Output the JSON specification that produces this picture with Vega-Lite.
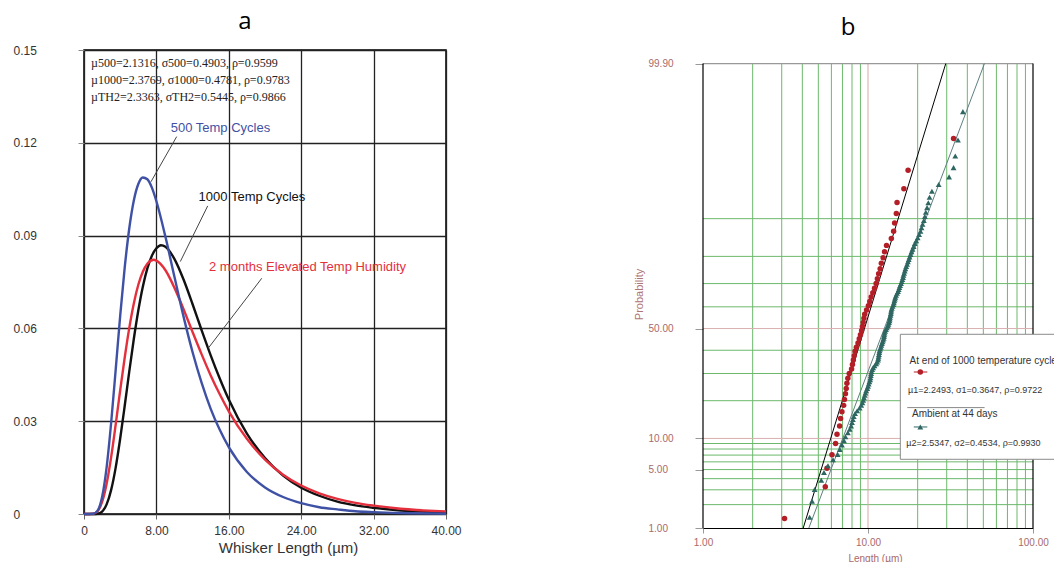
{
  "$schema": "https://vega.github.io/schema/vega-lite/v6.json",
  "background": "white",
  "padding": {"left": 12, "top": 9, "right": 0, "bottom": 0},
  "autosize": {"type": "pad"},
  "bounds": "flush",
  "spacing": 257,
  "config": {
    "font": "Liberation Sans",
    "view": {"stroke": null},
    "axis": {"labelFont": "Liberation Sans", "titleFont": "Liberation Sans"},
    "title": {"font": "Open Sans", "fontSize": 24, "fontWeight": "normal", "color": "#000", "anchor": "middle", "baseline": "alphabetic", "offset": 10, "dx": -20}
  },
  "datasets": {
    "pdf": [
      {"series": "1000 Temp Cycles", "len": 0, "dens": 0}, {"series": "1000 Temp Cycles", "len": 1, "dens": 0}, {"series": "1000 Temp Cycles", "len": 1.5, "dens": 0.0001}, {"series": "1000 Temp Cycles", "len": 2, "dens": 0.0008}, {"series": "1000 Temp Cycles", "len": 2.5, "dens": 0.0031}, {"series": "1000 Temp Cycles", "len": 3, "dens": 0.0078}, {"series": "1000 Temp Cycles", "len": 3.5, "dens": 0.015}, {"series": "1000 Temp Cycles", "len": 4, "dens": 0.0244}, {"series": "1000 Temp Cycles", "len": 4.5, "dens": 0.035}, {"series": "1000 Temp Cycles", "len": 5, "dens": 0.046}, {"series": "1000 Temp Cycles", "len": 5.5, "dens": 0.0565}, {"series": "1000 Temp Cycles", "len": 6, "dens": 0.0658}, {"series": "1000 Temp Cycles", "len": 6.5, "dens": 0.0735}, {"series": "1000 Temp Cycles", "len": 7, "dens": 0.0794}, {"series": "1000 Temp Cycles", "len": 7.5, "dens": 0.0835}, {"series": "1000 Temp Cycles", "len": 8, "dens": 0.0859}, {"series": "1000 Temp Cycles", "len": 8.5, "dens": 0.0869}, {"series": "1000 Temp Cycles", "len": 9, "dens": 0.0864}, {"series": "1000 Temp Cycles", "len": 10, "dens": 0.0824}, {"series": "1000 Temp Cycles", "len": 11, "dens": 0.0758}, {"series": "1000 Temp Cycles", "len": 12, "dens": 0.0678}, {"series": "1000 Temp Cycles", "len": 13, "dens": 0.0594}, {"series": "1000 Temp Cycles", "len": 14, "dens": 0.0513}, {"series": "1000 Temp Cycles", "len": 15, "dens": 0.0438}, {"series": "1000 Temp Cycles", "len": 16, "dens": 0.037}, {"series": "1000 Temp Cycles", "len": 18, "dens": 0.026}, {"series": "1000 Temp Cycles", "len": 20, "dens": 0.0181}, {"series": "1000 Temp Cycles", "len": 22, "dens": 0.0124}, {"series": "1000 Temp Cycles", "len": 24, "dens": 0.0085}, {"series": "1000 Temp Cycles", "len": 26, "dens": 0.0059}, {"series": "1000 Temp Cycles", "len": 28, "dens": 0.004}, {"series": "1000 Temp Cycles", "len": 30, "dens": 0.0028}, {"series": "1000 Temp Cycles", "len": 32, "dens": 0.002}, {"series": "1000 Temp Cycles", "len": 35, "dens": 0.0011}, {"series": "1000 Temp Cycles", "len": 40, "dens": 0.0005},
      {"series": "2 months Elevated Temp Humidity", "len": 0, "dens": 0}, {"series": "2 months Elevated Temp Humidity", "len": 1, "dens": 0.0001}, {"series": "2 months Elevated Temp Humidity", "len": 1.5, "dens": 0.0009}, {"series": "2 months Elevated Temp Humidity", "len": 2, "dens": 0.0039}, {"series": "2 months Elevated Temp Humidity", "len": 2.5, "dens": 0.0098}, {"series": "2 months Elevated Temp Humidity", "len": 3, "dens": 0.0184}, {"series": "2 months Elevated Temp Humidity", "len": 3.5, "dens": 0.0289}, {"series": "2 months Elevated Temp Humidity", "len": 4, "dens": 0.04}, {"series": "2 months Elevated Temp Humidity", "len": 4.5, "dens": 0.0506}, {"series": "2 months Elevated Temp Humidity", "len": 5, "dens": 0.0601}, {"series": "2 months Elevated Temp Humidity", "len": 5.5, "dens": 0.068}, {"series": "2 months Elevated Temp Humidity", "len": 6, "dens": 0.0741}, {"series": "2 months Elevated Temp Humidity", "len": 6.5, "dens": 0.0783}, {"series": "2 months Elevated Temp Humidity", "len": 7, "dens": 0.0809}, {"series": "2 months Elevated Temp Humidity", "len": 7.7, "dens": 0.0822}, {"series": "2 months Elevated Temp Humidity", "len": 8, "dens": 0.0819}, {"series": "2 months Elevated Temp Humidity", "len": 9, "dens": 0.0788}, {"series": "2 months Elevated Temp Humidity", "len": 10, "dens": 0.0731}, {"series": "2 months Elevated Temp Humidity", "len": 11, "dens": 0.0662}, {"series": "2 months Elevated Temp Humidity", "len": 12, "dens": 0.0588}, {"series": "2 months Elevated Temp Humidity", "len": 13, "dens": 0.0516}, {"series": "2 months Elevated Temp Humidity", "len": 14, "dens": 0.0448}, {"series": "2 months Elevated Temp Humidity", "len": 15, "dens": 0.0387}, {"series": "2 months Elevated Temp Humidity", "len": 16, "dens": 0.0332}, {"series": "2 months Elevated Temp Humidity", "len": 18, "dens": 0.0243}, {"series": "2 months Elevated Temp Humidity", "len": 20, "dens": 0.0176}, {"series": "2 months Elevated Temp Humidity", "len": 22, "dens": 0.0127}, {"series": "2 months Elevated Temp Humidity", "len": 24, "dens": 0.0092}, {"series": "2 months Elevated Temp Humidity", "len": 26, "dens": 0.0067}, {"series": "2 months Elevated Temp Humidity", "len": 28, "dens": 0.0049}, {"series": "2 months Elevated Temp Humidity", "len": 30, "dens": 0.0036}, {"series": "2 months Elevated Temp Humidity", "len": 32, "dens": 0.0027}, {"series": "2 months Elevated Temp Humidity", "len": 35, "dens": 0.0017}, {"series": "2 months Elevated Temp Humidity", "len": 40, "dens": 0.0008},
      {"series": "500 Temp Cycles", "len": 0, "dens": 0}, {"series": "500 Temp Cycles", "len": 1, "dens": 0.0001}, {"series": "500 Temp Cycles", "len": 1.5, "dens": 0.0011}, {"series": "500 Temp Cycles", "len": 2, "dens": 0.0055}, {"series": "500 Temp Cycles", "len": 2.5, "dens": 0.0151}, {"series": "500 Temp Cycles", "len": 3, "dens": 0.0295}, {"series": "500 Temp Cycles", "len": 3.5, "dens": 0.0466}, {"series": "500 Temp Cycles", "len": 4, "dens": 0.0641}, {"series": "500 Temp Cycles", "len": 4.5, "dens": 0.0797}, {"series": "500 Temp Cycles", "len": 5, "dens": 0.0923}, {"series": "500 Temp Cycles", "len": 5.5, "dens": 0.1013}, {"series": "500 Temp Cycles", "len": 6, "dens": 0.1067}, {"series": "500 Temp Cycles", "len": 6.5, "dens": 0.1088}, {"series": "500 Temp Cycles", "len": 7, "dens": 0.1082}, {"series": "500 Temp Cycles", "len": 7.5, "dens": 0.1055}, {"series": "500 Temp Cycles", "len": 8, "dens": 0.1011}, {"series": "500 Temp Cycles", "len": 9, "dens": 0.0896}, {"series": "500 Temp Cycles", "len": 10, "dens": 0.0766}, {"series": "500 Temp Cycles", "len": 11, "dens": 0.0638}, {"series": "500 Temp Cycles", "len": 12, "dens": 0.0523}, {"series": "500 Temp Cycles", "len": 13, "dens": 0.0424}, {"series": "500 Temp Cycles", "len": 14, "dens": 0.034}, {"series": "500 Temp Cycles", "len": 15, "dens": 0.0272}, {"series": "500 Temp Cycles", "len": 16, "dens": 0.0216}, {"series": "500 Temp Cycles", "len": 18, "dens": 0.0136}, {"series": "500 Temp Cycles", "len": 20, "dens": 0.0086}, {"series": "500 Temp Cycles", "len": 22, "dens": 0.0055}, {"series": "500 Temp Cycles", "len": 24, "dens": 0.0035}, {"series": "500 Temp Cycles", "len": 26, "dens": 0.0022}, {"series": "500 Temp Cycles", "len": 28, "dens": 0.0015}, {"series": "500 Temp Cycles", "len": 30, "dens": 0.0009}, {"series": "500 Temp Cycles", "len": 32, "dens": 0.0006}, {"series": "500 Temp Cycles", "len": 35, "dens": 0.0003}, {"series": "500 Temp Cycles", "len": 40, "dens": 0.0001}
    ],
    "statsA": [
      {"label": "µ500=2.1316, σ500=0.4903, ρ=0.9599", "len": 0.77, "dens": 0.1458},
      {"label": "µ1000=2.3769, σ1000=0.4781, ρ=0.9783", "len": 0.77, "dens": 0.1403},
      {"label": "µTH2=2.3363, σTH2=0.5445, ρ=0.9866", "len": 0.77, "dens": 0.1348}
    ],
    "annA": [
      {"label": "500 Temp Cycles", "series": "500 Temp Cycles", "len": 15.08, "dens": 0.1248},
      {"label": "1000 Temp Cycles", "series": "1000 Temp Cycles", "len": 18.56, "dens": 0.1025},
      {"label": "2 months Elevated Temp Humidity", "series": "2 months Elevated Temp Humidity", "len": 24.7, "dens": 0.0798}
    ],
    "leadA": [
      {"len": 10.24, "dens": 0.122, "len2": 7.4, "dens2": 0.1074},
      {"len": 13.67, "dens": 0.0996, "len2": 10.64, "dens2": 0.0816},
      {"len": 19.64, "dens": 0.0762, "len2": 13.73, "dens2": 0.0536}
    ],
    "vgrid": [{"len": 2}, {"len": 3}, {"len": 4}, {"len": 5}, {"len": 6}, {"len": 7}, {"len": 8}, {"len": 9}, {"len": 20}, {"len": 30}, {"len": 40}, {"len": 50}, {"len": 60}, {"len": 70}, {"len": 80}, {"len": 90}],
    "hgrid": [{"prob": 2, "z": -2.0537}, {"prob": 3, "z": -1.8808}, {"prob": 4, "z": -1.7507}, {"prob": 5, "z": -1.6449}, {"prob": 6, "z": -1.5548}, {"prob": 7, "z": -1.4758}, {"prob": 8, "z": -1.4051}, {"prob": 9, "z": -1.3408}, {"prob": 20, "z": -0.8416}, {"prob": 30, "z": -0.5244}, {"prob": 40, "z": -0.2533}, {"prob": 60, "z": 0.2533}, {"prob": 70, "z": 0.5244}, {"prob": 80, "z": 0.8416}, {"prob": 90, "z": 1.2816}],
    "red": [
      {"len": 3.12, "z": -2.216}, {"len": 5.51, "z": -1.846}, {"len": 5.64, "z": -1.63}, {"len": 6.05, "z": -1.471}, {"len": 6.36, "z": -1.342}, {"len": 6.49, "z": -1.232}, {"len": 6.73, "z": -1.136}, {"len": 6.82, "z": -1.05}, {"len": 6.95, "z": -0.97}, {"len": 7.12, "z": -0.896},
      {"len": 7.2, "z": -0.827}, {"len": 7.3, "z": -0.761}, {"len": 7.38, "z": -0.698}, {"len": 7.45, "z": -0.639}, {"len": 7.55, "z": -0.581}, {"len": 7.7, "z": -0.525}, {"len": 7.95, "z": -0.471}, {"len": 8.05, "z": -0.418}, {"len": 8.15, "z": -0.367}, {"len": 8.25, "z": -0.316},
      {"len": 8.35, "z": -0.266}, {"len": 8.5, "z": -0.217}, {"len": 8.7, "z": -0.168}, {"len": 8.85, "z": -0.12}, {"len": 9.0, "z": -0.072}, {"len": 9.15, "z": -0.024}, {"len": 9.25, "z": 0.024}, {"len": 9.35, "z": 0.072}, {"len": 9.45, "z": 0.12}, {"len": 9.55, "z": 0.168},
      {"len": 9.8, "z": 0.217}, {"len": 10.05, "z": 0.266}, {"len": 10.25, "z": 0.316}, {"len": 10.45, "z": 0.367}, {"len": 10.7, "z": 0.418}, {"len": 10.95, "z": 0.471}, {"len": 11.2, "z": 0.525}, {"len": 11.4, "z": 0.581}, {"len": 11.6, "z": 0.639}, {"len": 11.85, "z": 0.698},
      {"len": 12.05, "z": 0.761}, {"len": 12.35, "z": 0.827}, {"len": 12.6, "z": 0.896}, {"len": 12.95, "z": 0.97}, {"len": 13.85, "z": 1.05}, {"len": 14.3, "z": 1.136}, {"len": 14.5, "z": 1.232}, {"len": 14.85, "z": 1.342}, {"len": 15.0, "z": 1.471}, {"len": 16.5, "z": 1.63},
      {"len": 17.5, "z": 1.846}, {"len": 33.0, "z": 2.216}
    ],
    "teal": [
      {"len": 4.43, "z": -2.2}, {"len": 4.58, "z": -2.013}, {"len": 4.75, "z": -1.877}, {"len": 5.21, "z": -1.769}, {"len": 5.41, "z": -1.679}, {"len": 5.72, "z": -1.601}, {"len": 6.14, "z": -1.531}, {"len": 6.55, "z": -1.468}, {"len": 6.75, "z": -1.41}, {"len": 6.95, "z": -1.357},
      {"len": 7.15, "z": -1.307}, {"len": 7.3, "z": -1.261}, {"len": 7.55, "z": -1.216}, {"len": 7.75, "z": -1.175}, {"len": 7.9, "z": -1.135}, {"len": 8.0, "z": -1.097}, {"len": 8.1, "z": -1.06}, {"len": 8.2, "z": -1.025}, {"len": 8.35, "z": -0.991}, {"len": 8.6, "z": -0.958},
      {"len": 8.9, "z": -0.926}, {"len": 9.1, "z": -0.895}, {"len": 9.25, "z": -0.865}, {"len": 9.35, "z": -0.835}, {"len": 9.45, "z": -0.806}, {"len": 9.55, "z": -0.778}, {"len": 9.65, "z": -0.751}, {"len": 9.75, "z": -0.724}, {"len": 9.9, "z": -0.698}, {"len": 10.0, "z": -0.672},
      {"len": 10.1, "z": -0.646}, {"len": 10.2, "z": -0.621}, {"len": 10.3, "z": -0.597}, {"len": 10.35, "z": -0.573}, {"len": 10.4, "z": -0.548}, {"len": 10.45, "z": -0.525}, {"len": 10.5, "z": -0.501}, {"len": 10.6, "z": -0.478}, {"len": 10.75, "z": -0.456}, {"len": 10.95, "z": -0.433},
      {"len": 11.2, "z": -0.411}, {"len": 11.35, "z": -0.389}, {"len": 11.5, "z": -0.366}, {"len": 11.55, "z": -0.345}, {"len": 11.6, "z": -0.323}, {"len": 11.65, "z": -0.301}, {"len": 11.7, "z": -0.28}, {"len": 11.75, "z": -0.259}, {"len": 11.85, "z": -0.238}, {"len": 11.95, "z": -0.217},
      {"len": 12.05, "z": -0.196}, {"len": 12.15, "z": -0.175}, {"len": 12.25, "z": -0.154}, {"len": 12.35, "z": -0.133}, {"len": 12.45, "z": -0.113}, {"len": 12.5, "z": -0.092}, {"len": 12.55, "z": -0.072}, {"len": 12.6, "z": -0.051}, {"len": 12.7, "z": -0.031}, {"len": 12.85, "z": -0.01},
      {"len": 13.0, "z": 0.01}, {"len": 13.2, "z": 0.031}, {"len": 13.3, "z": 0.051}, {"len": 13.4, "z": 0.072}, {"len": 13.5, "z": 0.092}, {"len": 13.55, "z": 0.113}, {"len": 13.6, "z": 0.133}, {"len": 13.7, "z": 0.154}, {"len": 13.75, "z": 0.175}, {"len": 13.8, "z": 0.196},
      {"len": 13.85, "z": 0.217}, {"len": 13.95, "z": 0.238}, {"len": 14.1, "z": 0.259}, {"len": 14.25, "z": 0.28}, {"len": 14.35, "z": 0.301}, {"len": 14.45, "z": 0.323}, {"len": 14.55, "z": 0.345}, {"len": 14.65, "z": 0.366}, {"len": 14.8, "z": 0.389}, {"len": 15.0, "z": 0.411},
      {"len": 15.2, "z": 0.433}, {"len": 15.35, "z": 0.456}, {"len": 15.5, "z": 0.478}, {"len": 15.65, "z": 0.501}, {"len": 15.85, "z": 0.525}, {"len": 16.0, "z": 0.548}, {"len": 16.15, "z": 0.573}, {"len": 16.3, "z": 0.597}, {"len": 16.4, "z": 0.621}, {"len": 16.55, "z": 0.646},
      {"len": 16.7, "z": 0.672}, {"len": 16.85, "z": 0.698}, {"len": 17.05, "z": 0.724}, {"len": 17.25, "z": 0.751}, {"len": 17.45, "z": 0.778}, {"len": 17.65, "z": 0.806}, {"len": 17.85, "z": 0.835}, {"len": 18.1, "z": 0.865}, {"len": 18.35, "z": 0.895}, {"len": 18.6, "z": 0.926},
      {"len": 18.9, "z": 0.958}, {"len": 19.2, "z": 0.991}, {"len": 19.6, "z": 1.025}, {"len": 20.0, "z": 1.06}, {"len": 20.4, "z": 1.097}, {"len": 20.8, "z": 1.135}, {"len": 21.1, "z": 1.175}, {"len": 21.4, "z": 1.216}, {"len": 21.8, "z": 1.261}, {"len": 22.1, "z": 1.307},
      {"len": 22.4, "z": 1.357}, {"len": 22.8, "z": 1.41}, {"len": 23.2, "z": 1.468}, {"len": 23.6, "z": 1.531}, {"len": 24.4, "z": 1.601}, {"len": 26.8, "z": 1.679}, {"len": 31.0, "z": 1.769}, {"len": 33.0, "z": 1.877}, {"len": 33.8, "z": 2.013}, {"len": 35.1, "z": 2.2},
      {"len": 37.6, "z": 2.53}
    ],
    "fitRed": [{"len": 4.05, "z": -2.3263}, {"len": 29.6, "z": 3.0902}],
    "fitTeal": [{"len": 4.38, "z": -2.3263}, {"len": 50.8, "z": 3.0902}],
    "legHead": [
      {"label": "At end of 1000 temperature cycles", "len": 17.87, "z": -0.382},
      {"label": "Ambient at 44 days", "len": 18.48, "z": -0.992}
    ],
    "legStats": [
      {"label": "µ1=2.2493, σ1=0.3647, ρ=0.9722", "len": 17.48, "z": -0.72},
      {"label": "µ2=2.5347, σ2=0.4534, ρ=0.9930", "len": 17.07, "z": -1.335}
    ]
  },
  "hconcat": [
    {
      "width": 362,
      "height": 464,
      "view": {"stroke": "#000", "strokeWidth": 1.5, "fill": "white"},
      "title": {"text": "a"},
      "layer": [
        {
          "data": {"name": "pdf"},
          "mark": {"type": "line", "strokeWidth": 2.4, "interpolate": "monotone"},
          "encoding": {
            "x": {"field": "len", "type": "quantitative", "scale": {"domain": [0, 40], "nice": false, "zero": false},
              "axis": {"values": [0, 8, 16, 24, 32, 40], "labelExpr": "datum.value == 0 ? '0' : format(datum.value, '.2f')", "title": "Whisker Length (µm)", "titleFontSize": 15, "titleFontWeight": "normal", "titleColor": "#333", "titleX": 204, "titleY": 38, "titleBaseline": "alphabetic", "grid": true, "gridColor": "#222", "gridWidth": 1.3, "domain": false, "tickColor": "#666", "tickSize": 5, "labelPadding": 6, "labelFontSize": 12, "labelColor": "#333", "labelDx": 3, "labelFlush": false, "labelOverlap": false}},
            "y": {"field": "dens", "type": "quantitative", "scale": {"domain": [0, 0.15], "nice": false},
              "axis": {"values": [0, 0.03, 0.06, 0.09, 0.12, 0.15], "labelExpr": "datum.value == 0 ? '0' : format(datum.value, '.2f')", "title": null, "grid": true, "gridColor": "#222", "gridWidth": 1.3, "domain": false, "tickColor": "#888", "tickSize": 6, "labelAlign": "left", "labelPadding": 65, "labelFontSize": 12, "labelColor": "#333", "labelOverlap": false, "labelFlush": false}},
            "color": {"field": "series", "type": "nominal", "scale": {"domain": ["1000 Temp Cycles", "2 months Elevated Temp Humidity", "500 Temp Cycles"], "range": ["#111111", "#e3303c", "#3f51a5"]}, "legend": null}
          }
        },
        {
          "data": {"name": "leadA"},
          "mark": {"type": "rule", "color": "#444", "strokeWidth": 1},
          "encoding": {
            "x": {"field": "len", "type": "quantitative"},
            "y": {"field": "dens", "type": "quantitative"},
            "x2": {"field": "len2"},
            "y2": {"field": "dens2"}
          }
        },
        {
          "data": {"name": "statsA"},
          "mark": {"type": "text", "align": "left", "baseline": "middle", "font": "Liberation Serif", "fontSize": 12, "color": "#222"},
          "encoding": {
            "x": {"field": "len", "type": "quantitative"},
            "y": {"field": "dens", "type": "quantitative"},
            "text": {"field": "label"}
          }
        },
        {
          "data": {"name": "annA"},
          "mark": {"type": "text", "align": "center", "baseline": "middle", "font": "Liberation Sans", "fontSize": 13},
          "encoding": {
            "x": {"field": "len", "type": "quantitative"},
            "y": {"field": "dens", "type": "quantitative"},
            "text": {"field": "label"},
            "color": {"field": "series", "type": "nominal", "legend": null}
          }
        }
      ]
    },
    {
      "width": 330,
      "height": 478,
      "view": {"stroke": null, "fill": "white"},
      "title": {"text": "b"},
      "layer": [
        {
          "data": {"name": "vgrid"},
          "mark": {"type": "rule", "color": "#6cb96c", "strokeWidth": 1},
          "encoding": {
            "x": {"field": "len", "type": "quantitative", "scale": {"type": "log", "domain": [1, 100], "nice": false},
              "axis": {"values": [1, 10, 100], "labelExpr": "format(datum.value, '.2f')", "title": "Length (µm)", "titleFontSize": 10, "titleFontWeight": "normal", "titleColor": "#a86a6a", "titleX": 172, "titleY": 33, "titleBaseline": "alphabetic", "grid": false, "domain": true, "domainColor": "#000", "domainWidth": 1.2, "tickColor": "#999", "tickSize": 5, "labelPadding": 4, "labelFontSize": 10, "labelColor": "#a86a6a", "labelDx": 4, "labelFlush": false, "labelOverlap": false, "zindex": 1}},
            "y": {"datum": -2.3263, "type": "quantitative", "scale": {"domain": [-2.3263, 3.2487], "nice": false, "zero": false}},
            "y2": {"datum": 3.0902}
          }
        },
        {
          "data": {"name": "hgrid"},
          "mark": {"type": "rule", "color": "#6cb96c", "strokeWidth": 1},
          "encoding": {
            "y": {"field": "z", "type": "quantitative", "scale": {"domain": [-2.3263, 3.2487], "nice": false, "zero": false},
              "axis": {"values": [-2.3263, -1.6449, -1.2816, 0, 3.0902], "labelExpr": "datum.value < -2 ? '1.00' : datum.value < -1.5 ? '5.00' : datum.value < -1 ? '10.00' : datum.value < 1 ? '50.00' : '99.90'", "title": "Probability", "titleFontSize": 11, "titleFontWeight": "normal", "titleColor": "#b07575", "titleX": -64, "titleY": 244, "titleAngle": -90, "titleAlign": "center", "titleBaseline": "middle", "grid": false, "domain": false, "tickColor": "#999", "tickSize": 8, "labelAlign": "left", "labelBaseline": "middle", "labelPadding": 47, "labelFontSize": 10, "labelColor": "#a86a6a", "labelOverlap": false, "labelFlush": false}},
            "x": {"datum": 1, "type": "quantitative"},
            "x2": {"datum": 100}
          }
        },
        {
          "data": {"values": [{"len": 10}]},
          "mark": {"type": "rule", "color": "#d9a9a9", "strokeWidth": 1},
          "encoding": {
            "x": {"field": "len", "type": "quantitative"},
            "y": {"datum": -2.3263, "type": "quantitative"},
            "y2": {"datum": 3.0902}
          }
        },
        {
          "data": {"values": [{"z": -1.2816}, {"z": 0}]},
          "mark": {"type": "rule", "color": "#d9b0b0", "strokeWidth": 1},
          "encoding": {
            "y": {"field": "z", "type": "quantitative"},
            "x": {"datum": 1, "type": "quantitative"},
            "x2": {"datum": 100}
          }
        },
        {
          "data": {"values": [{}]},
          "mark": {"type": "rule", "color": "#999", "strokeWidth": 1.2},
          "encoding": {
            "y": {"datum": 3.0902, "type": "quantitative"},
            "x": {"datum": 1, "type": "quantitative"},
            "x2": {"datum": 100}
          }
        },
        {
          "data": {"values": [{"len": 1}, {"len": 100}]},
          "mark": {"type": "rule", "color": "#000", "strokeWidth": 1.2},
          "encoding": {
            "x": {"field": "len", "type": "quantitative"},
            "y": {"datum": -2.3263, "type": "quantitative"},
            "y2": {"datum": 3.0902}
          }
        },
        {
          "data": {"name": "fitRed"},
          "mark": {"type": "line", "color": "#000", "strokeWidth": 1},
          "encoding": {
            "x": {"field": "len", "type": "quantitative"},
            "y": {"field": "z", "type": "quantitative"}
          }
        },
        {
          "data": {"name": "fitTeal"},
          "mark": {"type": "line", "color": "#5f7f80", "strokeWidth": 1},
          "encoding": {
            "x": {"field": "len", "type": "quantitative"},
            "y": {"field": "z", "type": "quantitative"}
          }
        },
        {
          "data": {"name": "red"},
          "mark": {"type": "point", "shape": "circle", "filled": true, "size": 30, "color": "#b31e27", "opacity": 1},
          "encoding": {
            "x": {"field": "len", "type": "quantitative"},
            "y": {"field": "z", "type": "quantitative"}
          }
        },
        {
          "data": {"name": "teal"},
          "mark": {"type": "point", "shape": "triangle-up", "filled": true, "size": 34, "color": "#2e6662", "opacity": 1},
          "encoding": {
            "x": {"field": "len", "type": "quantitative"},
            "y": {"field": "z", "type": "quantitative"}
          }
        },
        {
          "data": {"values": [{}]},
          "mark": {"type": "rect", "fill": "white", "stroke": "#8a8a8a", "strokeWidth": 1},
          "encoding": {
            "x": {"datum": 15.7, "type": "quantitative"},
            "x2": {"datum": 1000},
            "y": {"datum": -0.067, "type": "quantitative"},
            "y2": {"datum": -1.525}
          }
        },
        {
          "data": {"name": "legHead"},
          "mark": {"type": "text", "align": "left", "baseline": "middle", "font": "Liberation Sans", "fontSize": 10, "color": "#333"},
          "encoding": {
            "x": {"field": "len", "type": "quantitative"},
            "y": {"field": "z", "type": "quantitative"},
            "text": {"field": "label"}
          }
        },
        {
          "data": {"name": "legStats"},
          "mark": {"type": "text", "align": "left", "baseline": "middle", "font": "Liberation Sans", "fontSize": 9, "color": "#333"},
          "encoding": {
            "x": {"field": "len", "type": "quantitative"},
            "y": {"field": "z", "type": "quantitative"},
            "text": {"field": "label"}
          }
        },
        {
          "data": {"values": [{}]},
          "mark": {"type": "rule", "color": "#888", "strokeWidth": 1},
          "encoding": {
            "x": {"datum": 17.3, "type": "quantitative"},
            "x2": {"datum": 50.9},
            "y": {"datum": -0.922, "type": "quantitative"}
          }
        },
        {
          "data": {"values": [{}]},
          "mark": {"type": "rule", "color": "#b31e27", "strokeWidth": 1},
          "encoding": {
            "x": {"datum": 18.95, "type": "quantitative"},
            "x2": {"datum": 22.88},
            "y": {"datum": -0.507, "type": "quantitative"}
          }
        },
        {
          "data": {"values": [{}]},
          "mark": {"type": "point", "shape": "circle", "filled": true, "size": 30, "color": "#b31e27", "opacity": 1},
          "encoding": {
            "x": {"datum": 20.75, "type": "quantitative"},
            "y": {"datum": -0.507, "type": "quantitative"}
          }
        },
        {
          "data": {"values": [{}]},
          "mark": {"type": "rule", "color": "#2e6662", "strokeWidth": 1},
          "encoding": {
            "x": {"datum": 18.95, "type": "quantitative"},
            "x2": {"datum": 22.88},
            "y": {"datum": -1.148, "type": "quantitative"}
          }
        },
        {
          "data": {"values": [{}]},
          "mark": {"type": "point", "shape": "triangle-up", "filled": true, "size": 34, "color": "#2e6662", "opacity": 1},
          "encoding": {
            "x": {"datum": 20.75, "type": "quantitative"},
            "y": {"datum": -1.148, "type": "quantitative"}
          }
        }
      ]
    }
  ]
}
